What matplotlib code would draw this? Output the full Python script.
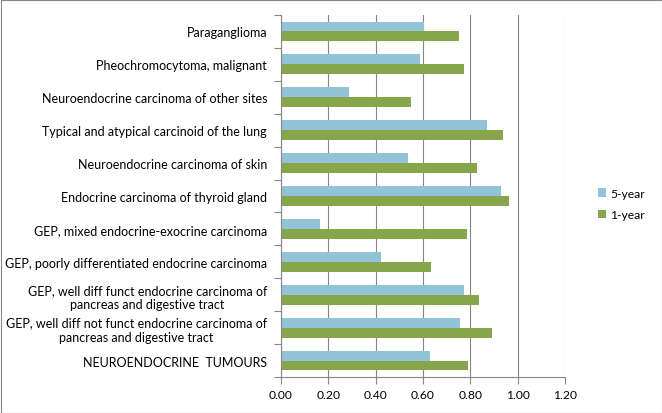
import matplotlib
matplotlib.use("Agg")
import matplotlib.pyplot as plt
import numpy as np
from matplotlib.patches import Rectangle

categories = [
    "NEUROENDOCRINE  TUMOURS",
    "GEP, well diff not funct endocrine carcinoma of\npancreas and digestive tract",
    "GEP, well diff funct endocrine carcinoma of\npancreas and digestive tract",
    "GEP, poorly differentiated endocrine carcinoma",
    "GEP, mixed endocrine-exocrine carcinoma",
    "Endocrine carcinoma of thyroid gland",
    "Neuroendocrine carcinoma of skin",
    "Typical and atypical carcinoid of the lung",
    "Neuroendocrine carcinoma of other sites",
    "Pheochromocytoma, malignant",
    "Paraganglioma",
]
five_year = [0.63, 0.756, 0.773, 0.422, 0.166, 0.929, 0.537, 0.870, 0.288, 0.587, 0.603]
one_year = [0.79, 0.891, 0.836, 0.634, 0.786, 0.963, 0.828, 0.937, 0.549, 0.773, 0.752]
xticks = [0.0, 0.2, 0.4, 0.6, 0.8, 1.0, 1.2]

plt.rcParams['font.family'] = ['Lato', 'DejaVu Sans']

fig = plt.figure(figsize=(6.62, 4.14), dpi=100)
ax = fig.add_axes([281/662, 1-378/414, (565-281)/662, (378-16)/414])

y = np.arange(len(categories))
h = 0.30
c_blue = "#93C3D6"
c_green = "#87A54B"
ax.barh(y + h/2, five_year, height=h, color=c_blue, label="5-year", zorder=3)
ax.barh(y - h/2, one_year, height=h, color=c_green, label="1-year", zorder=3)

ax.set_xlim(0, 1.2)
ax.set_ylim(-0.5, len(categories) - 0.5)
ax.set_xticks(xticks)
ax.set_xticklabels([f"{v:.2f}" for v in xticks], fontsize=8.7)
ax.set_yticks(y)
ax.set_yticklabels(categories, fontsize=9, multialignment='center')
ax.tick_params(axis='y', length=0, pad=10)
ax.set_yticks(np.arange(-0.5, len(categories), 1.0), minor=True)
ax.tick_params(axis='y', which='minor', length=5, color="#868686", width=0.8)
ax.tick_params(axis='x', length=5, color="#868686", width=0.8, pad=4)
ax.grid(axis='x', color="#868686", linewidth=0.8, zorder=0)
for s in ['top', 'right']:
    ax.spines[s].set_visible(False)
for s in ['left', 'bottom']:
    ax.spines[s].set_color("#868686")
    ax.spines[s].set_linewidth(0.8)
    ax.spines[s].set_zorder(4)

leg = fig.legend(loc='center left', bbox_to_anchor=(587/662, 1-205/414), frameon=False,
                 fontsize=8.7, handlelength=0.7, handleheight=0.7, handletextpad=0.3,
                 labelspacing=0.9)

fig.patches.append(Rectangle((0.5/662, 0.5/414), 1-1/662, 1-1/414, transform=fig.transFigure,
                             fill=False, edgecolor="#868686", linewidth=0.8))

fig.savefig("out.png", dpi=100)
